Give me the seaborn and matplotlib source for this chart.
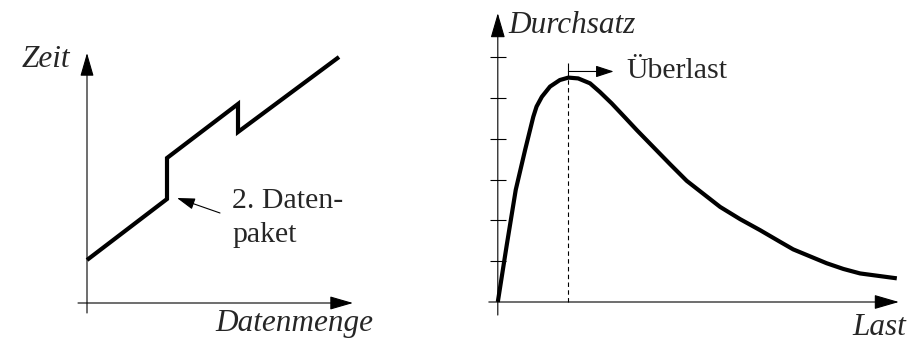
import matplotlib
matplotlib.use("Agg")
import matplotlib.pyplot as plt
import seaborn as sns

# left panel: time over data size (schematic)
menge = [0, 8.0, 8.0, 15.1, 15.1, 25.2]
zeit = [4.3, 10.4, 14.5, 19.9, 17.1, 24.6]

# right panel: throughput over load
last = [0, 0.22, 0.44, 0.67, 0.87, 0.95, 1.08, 1.28, 1.52, 1.73, 1.97, 2.26,
        2.50, 2.79, 3.12, 3.41, 3.81, 4.22, 4.63, 5.45, 5.94, 6.43, 6.91, 7.24,
        8.06, 8.47, 8.88, 9.78]
durchsatz = [0, 1.40, 2.75, 3.73, 4.54, 4.79, 5.03, 5.28, 5.44, 5.50, 5.48, 5.36,
             5.15, 4.87, 4.52, 4.21, 3.80, 3.38, 2.97, 2.33, 2.03, 1.76, 1.48, 1.29,
             0.95, 0.81, 0.70, 0.58]
y_ticks = [1, 2, 3, 4, 5, 6]

sns.set_theme(style="white")
plt.rcParams["font.family"] = ["Liberation Serif", "DejaVu Serif"]

W, H = 915, 343
fig = plt.figure(figsize=(W / 100, H / 100), dpi=100)
fig.patch.set_facecolor("white")

# left axes: 1 unit = 10 px, origin at px (87, 303)
ax1 = fig.add_axes([0, 0, 477 / W, 1])
ax1.set_xlim(-8.7, 39.0)
ax1.set_ylim(-4.0, 30.3)
# right axes: 1 unit = 40.8 px, origin at px (497.8, 302)
ax2 = fig.add_axes([477 / W, 0, 438 / W, 1])
ax2.set_xlim(-20.8 / 40.8, 417.2 / 40.8)
ax2.set_ylim(-41 / 40.8, 302 / 40.8)
for ax in (ax1, ax2):
    ax.set_axis_off()


def axis_arrow(ax, start, tip, hl=1.45, hw=0.42):
    ax.annotate("", xy=tip, xytext=start,
                arrowprops=dict(arrowstyle=f"-|>,head_length={hl},head_width={hw}",
                                lw=0.8, color="black", shrinkA=0, shrinkB=0,
                                mutation_scale=10))


# ---- left panel
axis_arrow(ax1, (0, -1.0), (0, 25.0))
axis_arrow(ax1, (-0.9, 0), (26.6, 0))
sns.lineplot(x=menge, y=zeit, sort=False, estimator=None, color="black",
             lw=3, ax=ax1, solid_joinstyle="miter", solid_capstyle="butt")
ax1.annotate("", xy=(9.0, 10.5), xytext=(13.3, 9.0),
             arrowprops=dict(arrowstyle="-|>,head_length=1.1,head_width=0.35",
                             lw=0.8, color="black", shrinkA=0, shrinkB=0,
                             mutation_scale=10))
ax1.text(14.5, 9.5, "2. Daten-", fontsize=21.5, ha="left", va="baseline")
ax1.text(14.5, 6.1, "paket", fontsize=21.5, ha="left", va="baseline")
ax1.text(-6.5, 23.6, "Zeit", fontsize=22.5, style="italic", ha="left", va="baseline")
ax1.text(12.8, -2.8, "Datenmenge", fontsize=22.5, style="italic", ha="left", va="baseline")

# ---- right panel
axis_arrow(ax2, (0, -0.32), (0, 7.08), hl=1.55, hw=0.45)
axis_arrow(ax2, (-0.22, 0), (9.83, 0), hl=1.55, hw=0.45)
ax2.hlines(y_ticks, -0.18, 0.19, color="black", lw=0.8)
sns.lineplot(x=last, y=durchsatz, sort=False, estimator=None, color="black",
             lw=3, ax=ax2, solid_joinstyle="round", solid_capstyle="butt")

i_peak = durchsatz.index(max(durchsatz))
x_peak, y_peak = last[i_peak], durchsatz[i_peak]
ax2.vlines(x_peak, 0, y_peak, color="black", lw=0.8, linestyles=(0, (4, 3)))
ax2.vlines(x_peak, y_peak, 5.86, color="black", lw=0.8)
ax2.annotate("", xy=(2.84, 5.65), xytext=(x_peak, 5.65),
             arrowprops=dict(arrowstyle="-|>,head_length=1.1,head_width=0.36",
                             lw=0.8, color="black", shrinkA=0, shrinkB=0,
                             mutation_scale=10))
ax2.text(3.14, 5.49, "Überlast", fontsize=21.5, ha="left", va="baseline")
ax2.text(0.27, 6.59, "Durchsatz", fontsize=22.5, style="italic", ha="left", va="baseline")
ax2.text(8.70, -0.80, "Last", fontsize=22.5, style="italic", ha="left", va="baseline")

fig.savefig("out.png", dpi=100, facecolor="white")
